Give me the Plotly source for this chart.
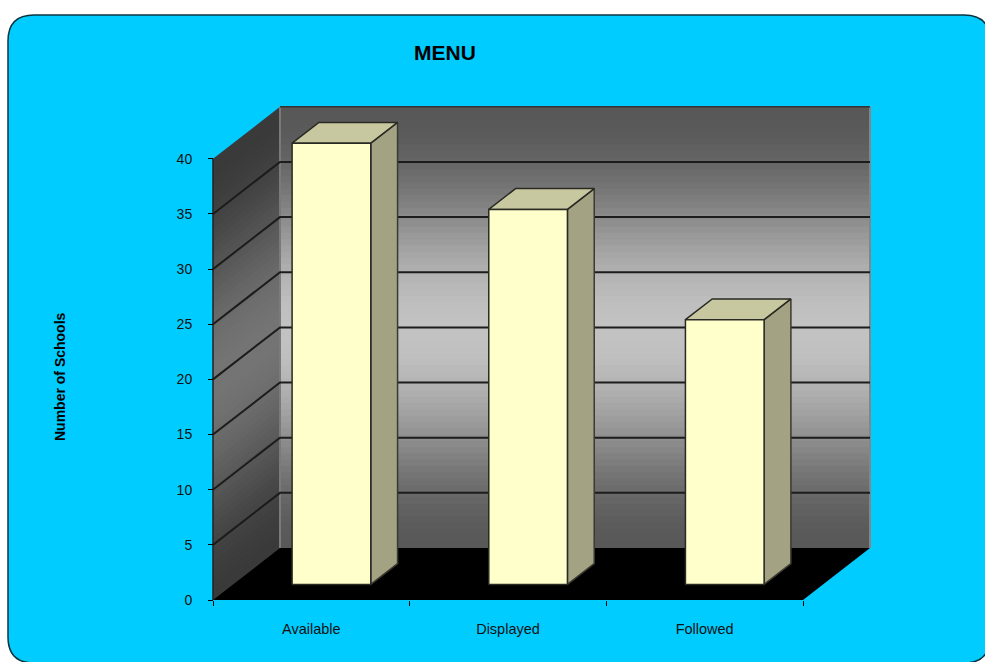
import math

import plotly.graph_objects as go

# Chart content
title_text = "MENU"
y_title = "Number of Schools"
categories = ["Available", "Displayed", "Followed"]
schools = [40, 34, 24]
value_ticks = [0, 5, 10, 15, 20, 25, 30, 35, 40]

# Canvas and oblique projection of the 3D column chart
W, H = 985, 662
PX_PER_CAT = 590 / 3
PX_PER_VAL = 11.03
ORIGIN_X, ORIGIN_Y = 213, 600
DEPTH_X = 67 / PX_PER_CAT   # category units shifted by the full floor depth
DEPTH_Y = 52 / PX_PER_VAL   # value units shifted by the full floor depth
Y_MAX = value_ticks[-1]
N_CAT = len(categories)
BAR_WIDTH = 0.4
BAR_NEAR, BAR_FAR = 0.3, 0.7


def project(x, v, d):
    return x + d * DEPTH_X, v + d * DEPTH_Y


def wall_shade(v, lo, hi):
    # Soft dark-light-dark ramp, brightest at mid height
    d = abs(v - Y_MAX / 2) / (Y_MAX / 2)
    c = round(lo + (hi - lo) * (0.5 + 0.5 * math.cos(math.pi * d)))
    return f"rgb({c},{c},{c})"


def polygon(fig, corners, fill, line_color=None, line_width=0):
    xs, ys = zip(*(project(*c) for c in corners))
    fig.add_trace(go.Scatter(
        x=list(xs) + [xs[0]], y=list(ys) + [ys[0]],
        mode="lines", fill="toself", fillcolor=fill,
        line=dict(color=line_color or fill, width=line_width),
        hoverinfo="skip", showlegend=False,
    ))


def polyline(fig, corners, color, width):
    xs, ys = zip(*(project(*c) for c in corners))
    fig.add_trace(go.Scatter(
        x=xs, y=ys, mode="lines", line=dict(color=color, width=width),
        hoverinfo="skip", showlegend=False,
    ))


fig = go.Figure()

# Walls; each band runs down to the floor so no seams show between bands
STEPS = 70
for i in range(STEPS):
    v_top = Y_MAX * (1 - i / STEPS)
    polygon(fig, [(0, v_top, 1), (N_CAT, v_top, 1), (N_CAT, 0, 1), (0, 0, 1)],
            wall_shade(v_top, 0x58, 0xC2))
for i in range(STEPS):
    v_top = Y_MAX * (1 - i / STEPS)
    polygon(fig, [(0, v_top, 0), (0, v_top, 1), (0, 0, 1), (0, 0, 0)],
            wall_shade(v_top, 0x3A, 0x74))

# Floor
polygon(fig, [(0, 0, 0), (N_CAT, 0, 0), (N_CAT, 0, 1), (0, 0, 1)], "#000000")

# Wall edges
polyline(fig, [(N_CAT, 0, 1), (N_CAT, Y_MAX, 1)], "#858585", 2)
polyline(fig, [(0, 0, 1), (0, Y_MAX, 1)], "#7a7a7a", 2)
polyline(fig, [(0, Y_MAX, 1), (N_CAT, Y_MAX, 1)], "#333333", 1.5)
polyline(fig, [(0, 0, 0), (0, Y_MAX, 0)], "#222222", 1.5)

# Gridlines wrap from the left wall across the back wall
for v in value_ticks[1:-1]:
    polyline(fig, [(0, v, 0), (0, v, 1), (N_CAT, v, 1)], "#1c1c1c", 2)

# Columns
for i, value in enumerate(schools):
    x0 = i + 0.5 - BAR_WIDTH / 2
    x1 = i + 0.5 + BAR_WIDTH / 2
    polygon(fig, [(x1, 0, BAR_NEAR), (x1, 0, BAR_FAR), (x1, value, BAR_FAR), (x1, value, BAR_NEAR)],
            "#A3A383", "#3a3a30", 1.5)
    polygon(fig, [(x0, value, BAR_NEAR), (x1, value, BAR_NEAR), (x1, value, BAR_FAR), (x0, value, BAR_FAR)],
            "#C8C8A0", "#2a2a24", 1.5)
    polygon(fig, [(x0, 0, BAR_NEAR), (x1, 0, BAR_NEAR), (x1, value, BAR_NEAR), (x0, value, BAR_NEAR)],
            "#FFFFCC", "#2a2a24", 1.5)

# Rounded panel behind the plot, running off the right and bottom of the page
L, T, R, B, RAD = 8, 15, 990, 663, 26


def px(x):
    return x / W


def py(y):
    return 1 - y / H


panel = (
    f"M {px(L)} {py(T + RAD)} Q {px(L)} {py(T)} {px(L + RAD)} {py(T)} "
    f"L {px(R - RAD)} {py(T)} Q {px(R)} {py(T)} {px(R)} {py(T + RAD)} "
    f"L {px(R)} {py(B - RAD)} Q {px(R)} {py(B)} {px(R - RAD)} {py(B)} "
    f"L {px(L + RAD)} {py(B)} Q {px(L)} {py(B)} {px(L)} {py(B - RAD)} Z"
)

FONT = "Liberation Sans"
fig.update_layout(
    width=W, height=H, autosize=False,
    margin=dict(l=0, r=0, t=0, b=0),
    paper_bgcolor="#FFFFFF", plot_bgcolor="rgba(0,0,0,0)",
    showlegend=False,
    font=dict(family=FONT, color="#000000"),
    title=dict(text=f"<b>{title_text}</b>", x=445 / W, y=py(53), xanchor="center", yanchor="middle",
               font=dict(family=FONT, size=21, color="#000000")),
    shapes=[dict(type="path", path=panel, xref="paper", yref="paper", layer="below",
                 fillcolor="#00CCFF", line=dict(color="#0b3440", width=1.5))],
    annotations=[dict(text=f"<b>{y_title}</b>", x=px(60), y=py(377), xref="paper", yref="paper",
                      xanchor="center", yanchor="middle",
                      showarrow=False, textangle=-90, font=dict(family=FONT, size=14, color="#000000"))],
    xaxis=dict(
        range=[-ORIGIN_X / PX_PER_CAT, (W - ORIGIN_X) / PX_PER_CAT],
        domain=[0, 1], anchor="free", position=(H - ORIGIN_Y) / H,
        tickvals=[i + 0.5 for i in range(N_CAT)], ticktext=categories,
        ticks="", ticklabelstandoff=18,
        tickfont=dict(family=FONT, size=14.5, color="#111111"),
        minor=dict(tickvals=list(range(N_CAT + 1)), ticks="outside", ticklen=5,
                   tickwidth=1, tickcolor="#000000", showgrid=False),
        showgrid=False, zeroline=False, showline=False,
    ),
    yaxis=dict(
        range=[-(H - ORIGIN_Y) / PX_PER_VAL, ORIGIN_Y / PX_PER_VAL],
        domain=[0, 1], anchor="free", position=ORIGIN_X / W, side="left",
        tickvals=value_ticks, ticks="outside", ticklen=5, tickwidth=1, tickcolor="#000000",
        ticklabelstandoff=13,
        tickfont=dict(family=FONT, size=14, color="#111111"),
        showgrid=False, zeroline=False, showline=False,
    ),
)

fig.write_html("out.html", config=dict(displayModeBar=False))
